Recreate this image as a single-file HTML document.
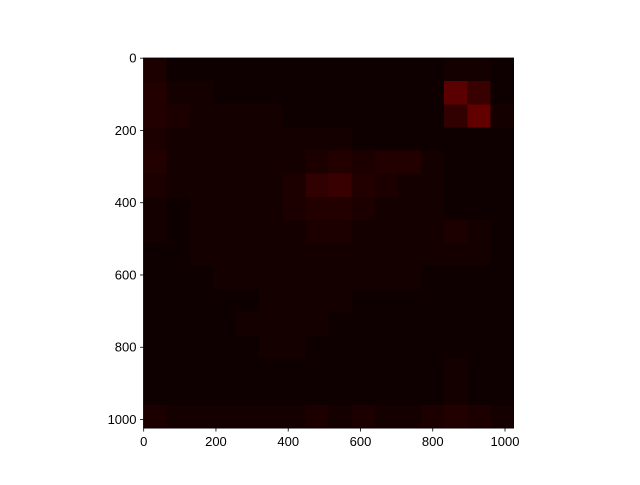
<!DOCTYPE html>
<html><head><meta charset="utf-8"><style>
body{margin:0;background:#fff;width:640px;height:480px;overflow:hidden}
text{font-family:"Liberation Sans","DejaVu Sans",sans-serif;font-size:13px;fill:#000}
</style></head><body>
<svg id="chart" width="640" height="480" xmlns="http://www.w3.org/2000/svg"></svg>
<script>
const xTicks=[0,200,400,600,800,1000];
const yTicks=[0,200,400,600,800,1000];
const extent=1024;
const rowsData=[
[0.04,0.02,0.02,0.02,0.02,0.02,0.02,0.02,0.02,0.02,0.02,0.02,0.02,0.03,0.03,0.02],
[0.05,0.03,0.03,0.02,0.02,0.02,0.02,0.02,0.02,0.02,0.02,0.02,0.02,0.13,0.08,0.02],
[0.05,0.04,0.03,0.03,0.03,0.03,0.02,0.02,0.02,0.02,0.02,0.02,0.02,0.07,0.14,0.03],
[0.04,0.03,0.03,0.03,0.03,0.03,0.03,0.03,0.03,0.02,0.02,0.02,0.02,0.02,0.02,0.02],
[0.05,0.03,0.03,0.03,0.03,0.03,0.03,0.04,0.05,0.04,0.05,0.05,0.03,0.02,0.02,0.02],
[0.04,0.03,0.03,0.03,0.03,0.03,0.04,0.07,0.08,0.05,0.04,0.03,0.03,0.02,0.02,0.02],
[0.03,0.02,0.03,0.03,0.03,0.03,0.04,0.05,0.05,0.04,0.03,0.03,0.03,0.02,0.02,0.02],
[0.03,0.02,0.03,0.03,0.03,0.03,0.03,0.04,0.04,0.03,0.03,0.03,0.03,0.04,0.03,0.02],
[0.02,0.02,0.03,0.03,0.03,0.03,0.03,0.03,0.03,0.03,0.03,0.03,0.03,0.03,0.03,0.02],
[0.02,0.02,0.02,0.03,0.03,0.03,0.03,0.03,0.03,0.03,0.03,0.03,0.02,0.02,0.02,0.02],
[0.02,0.02,0.02,0.02,0.02,0.03,0.03,0.03,0.03,0.02,0.02,0.02,0.02,0.02,0.02,0.02],
[0.02,0.02,0.02,0.02,0.03,0.03,0.03,0.03,0.02,0.02,0.02,0.02,0.02,0.02,0.02,0.02],
[0.02,0.02,0.02,0.02,0.02,0.03,0.03,0.02,0.02,0.02,0.02,0.02,0.02,0.02,0.02,0.02],
[0.02,0.02,0.02,0.02,0.02,0.02,0.02,0.02,0.02,0.02,0.02,0.02,0.02,0.03,0.02,0.02],
[0.02,0.02,0.02,0.02,0.02,0.02,0.02,0.02,0.02,0.02,0.02,0.02,0.02,0.03,0.02,0.02],
[0.04,0.03,0.03,0.03,0.03,0.03,0.03,0.04,0.03,0.04,0.03,0.03,0.04,0.05,0.04,0.03]
];
const svg=document.getElementById('chart');
const NS='http://www.w3.org/2000/svg';
const X0=143.5,Y0=58,S=370;
const sx=v=>X0+v/extent*S, sy=v=>Y0+v/extent*S;
function hot(v){const r=Math.min(1,v/0.365),g=Math.min(1,Math.max(0,(v-0.365)/0.365)),b=Math.min(1,Math.max(0,(v-0.73)/0.27));
return `rgb(${Math.round(r*255)},${Math.round(g*255)},${Math.round(b*255)})`;}
function mk(t,a){const e=document.createElementNS(NS,t);for(const k in a)e.setAttribute(k,a[k]);svg.appendChild(e);return e;}
const n=rowsData.length, cs=extent/n;
rowsData.forEach((row,i)=>row.forEach((v,j)=>{
 const r=mk('rect',{x:sx(j*cs),y:sy(i*cs),width:S/n+0.6,height:S/n+0.6,fill:hot(v),'shape-rendering':'crispEdges'});
 
 
}));
const fr=mk('rect',{x:X0,y:Y0,width:S,height:S,fill:'none',stroke:'#000','stroke-width':0.8});


xTicks.forEach(t=>{
 const x=sx(t+0.5);
 const l=mk('line',{x1:x,x2:x,y1:Y0+S,y2:Y0+S+3.5,stroke:'#000','stroke-width':0.8});
 
 
 const tx=mk('text',{x:x,y:Y0+S+18,'text-anchor':'middle'});tx.textContent=t;
 
 
});
yTicks.forEach(t=>{
 const y=sy(t+0.5);
 const l=mk('line',{x1:X0,x2:X0-3.5,y1:y,y2:y,stroke:'#000','stroke-width':0.8});
 
 
 const tx=mk('text',{x:X0-7,y:y+4.5,'text-anchor':'end'});tx.textContent=t;
 
 
});
</script>
</body></html>
